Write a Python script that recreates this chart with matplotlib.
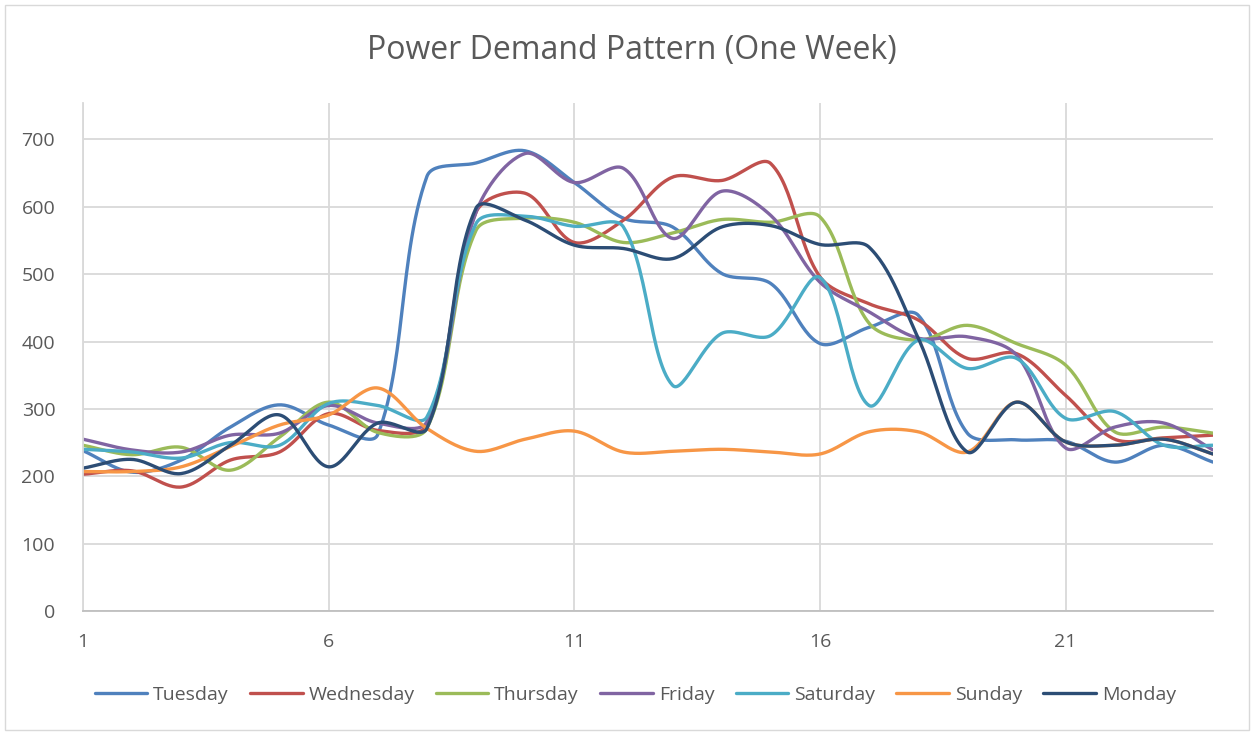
import numpy as np
import matplotlib
matplotlib.use("Agg")
import matplotlib.pyplot as plt
from matplotlib.patches import Rectangle

plt.rcParams['font.family'] = ['Open Sans', 'DejaVu Sans']

hours = list(range(1, 25))
tuesday = [238, 206, 224, 273, 306, 276, 262, 645, 665, 683, 636, 583, 570, 501, 486, 397, 421, 439, 264, 254, 252, 221, 246, 221]
wednesday = [203, 208, 184, 224, 236, 293, 268, 276, 592, 620, 547, 580, 644, 639, 664, 496, 456, 432, 375, 382, 320, 255, 257, 261]
thursday = [246, 232, 243, 209, 258, 310, 265, 271, 565, 583, 577, 547, 561, 581, 577, 585, 427, 402, 424, 397, 365, 266, 273, 264]
friday = [255, 239, 236, 261, 264, 305, 279, 281, 592, 679, 636, 657, 553, 623, 587, 488, 444, 405, 407, 380, 242, 273, 279, 239]
saturday = [240, 236, 227, 250, 246, 308, 305, 288, 575, 586, 571, 570, 335, 412, 409, 495, 305, 402, 360, 375, 286, 296, 246, 246]
sunday = [207, 207, 214, 244, 276, 291, 331, 271, 237, 255, 267, 236, 237, 240, 236, 233, 266, 266, 236, 310, 251, 246, 255, 233]
monday = [212, 225, 204, 246, 291, 214, 279, 271, 598, 580, 543, 538, 523, 570, 572, 544, 540, 405, 236, 310, 251, 246, 255, 233]

series = [
    ("Tuesday", tuesday, "#4F81BD"),
    ("Wednesday", wednesday, "#C0504D"),
    ("Thursday", thursday, "#9BBB59"),
    ("Friday", friday, "#8064A2"),
    ("Saturday", saturday, "#4BACC6"),
    ("Sunday", sunday, "#F79646"),
    ("Monday", monday, "#2C4D75"),
]

# rough pixel size of one hour / one unit, used to weight the smoothing
SX, SY = 49.1, 0.674


def smooth(x, y, n=30):
    # bezier curve through the points, tangents weighted by segment length
    px = np.asarray(x, float) * SX
    py = np.asarray(y, float) * SY
    P = np.column_stack([px, py])
    P = np.vstack([P[0], P, P[-1]])
    t = np.linspace(0, 1, n)[:, None]
    out = []
    for i in range(1, len(P) - 2):
        p0, p1, p2, p3 = P[i - 1], P[i], P[i + 1], P[i + 2]
        d01 = np.hypot(*(p1 - p0))
        d12 = np.hypot(*(p2 - p1))
        d23 = np.hypot(*(p3 - p2))
        f1 = d12 / (d01 + d12) if d01 + d12 > 0 else 0.5
        f2 = d12 / (d12 + d23) if d12 + d23 > 0 else 0.5
        b1 = p1 + (p2 - p0) * f1 / 3
        b2 = p2 - (p3 - p1) * f2 / 3
        pts = (1 - t) ** 3 * p1 + 3 * (1 - t) ** 2 * t * b1 + 3 * (1 - t) * t ** 2 * b2 + t ** 3 * p2
        out.append(pts)
    out = np.vstack(out)
    return out[:, 0] / SX, out[:, 1] / SY


fig = plt.figure(figsize=(12.53, 7.32), dpi=100)
ax = fig.add_axes([83 / 1253, 1 - 611 / 732, 1130 / 1253, 508 / 732])

for name, vals, col in series:
    sx, sy = smooth(hours, vals)
    ax.plot(sx, sy, color=col, lw=2.4, label=name, solid_capstyle='round')

ax.set_xlim(1, 24)
ax.set_ylim(0, 754)
ax.set_yticks(range(0, 701, 100))
ax.set_xticks([1, 6, 11, 16, 21])
ax.grid(True, color='#D9D9D9', lw=1.3)
ax.set_axisbelow(True)
for s in ['top', 'right']:
    ax.spines[s].set_visible(False)
ax.spines['left'].set_color('#D9D9D9')
ax.spines['bottom'].set_color('#BFBFBF')
ax.spines['left'].set_linewidth(1.3)
ax.spines['bottom'].set_linewidth(1.3)
ax.tick_params(axis='y', length=0, labelsize=14, colors='#595959', pad=20)
ax.tick_params(axis='x', length=0, labelsize=14, colors='#595959', pad=16)

fig.text(0.504, 1 - 50 / 732, "Power Demand Pattern (One Week)", ha='center', va='center',
         fontsize=23, color='#595959')

fig.legend(loc='center', bbox_to_anchor=(0.507, 1 - 695 / 732), ncol=7, frameon=False,
           fontsize=14, handlelength=2.7, handletextpad=0.3, columnspacing=1.1,
           labelcolor='#595959')

fig.add_artist(Rectangle((0.004, 0.003), 0.993, 0.99, transform=fig.transFigure,
                         fill=False, edgecolor='#D9D9D9', lw=1))

fig.savefig("out.png", dpi=100)
